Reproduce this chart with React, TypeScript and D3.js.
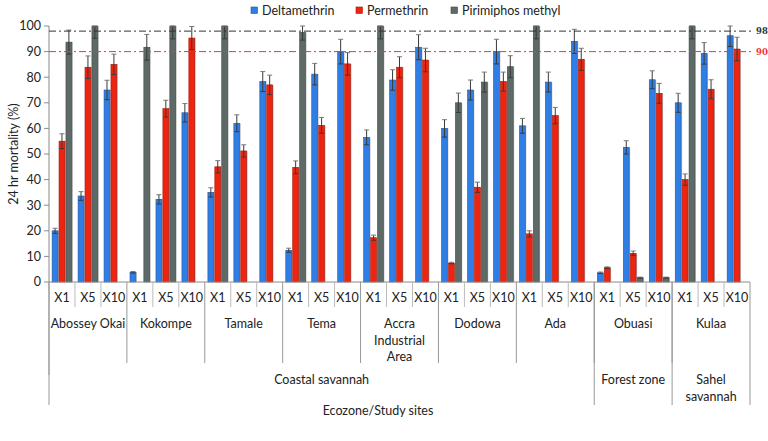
import React, { useEffect, useRef } from 'react';
import * as d3 from 'd3';

// categories
const doses = ['X1', 'X5', 'X10'];
const siteLabels = [
  ['Abossey Okai'], ['Kokompe'], ['Tamale'], ['Tema'],
  ['Accra', 'Industrial', 'Area'], ['Dodowa'], ['Ada'], ['Obuasi'], ['Kulaa']
];
const zoneLabels = [['Coastal savannah'], ['Forest zone'], ['Sahel', 'savannah']];
const zoneSiteCounts = [7, 1, 1];
const seriesNames = ['Deltamethrin', 'Permethrin', 'Pirimiphos methyl'];
const seriesColors = ['#2f7ee6', '#ee2410', '#5e6a68'];
const yTicks = [0, 10, 20, 30, 40, 50, 60, 70, 80, 90, 100];
const thresholds = [98, 90];

// mortality values, one per site x dose (null = not tested)
const deltamethrin = [20, 33.6, 75, 3.8, 32.3, 66.1, 35, 62, 78.3, 12.4, 81.2, 90, 56.5, 78.9, 91.7, 60, 75, 90, 61, 78.1, 94, 3.6, 52.6, 79, 70, 89.3, 96.2];
const permethrin = [55, 83.9, 85, null, 67.7, 95.3, 45, 51.2, 77, 44.8, 61.2, 85.2, 17.3, 83.9, 86.7, 7.4, 37, 78.3, 18.8, 65, 87, 5.6, 11.2, 73.7, 40, 75.3, 91];
const pirimiphos = [93.7, 100, null, 91.7, 100, null, 100, null, null, 97.5, null, null, 100, null, null, 70, 78.1, 84.1, 100, null, null, null, 1.7, 1.7, 100, null, null];

const deltaErr = [1, 1.7, 3.8, 0.3, 1.8, 3.6, 1.8, 3.3, 3.9, 0.8, 4.2, 4.8, 2.9, 4, 4.9, 3.4, 3.9, 4.8, 2.9, 3.9, 4.7, 0.3, 2.6, 3.5, 3.7, 4.2, 4.2];
const permErr = [2.9, 4.4, 4, null, 3.3, 4.5, 2.4, 2.4, 3.8, 2.5, 3.1, 4.4, 1, 4.1, 4.6, 0.3, 2, 3.7, 1.2, 3.2, 4.3, 0.3, 0.9, 3.9, 2.2, 3.7, 4.6];
const pirimErr = [4.7, 4.8, null, 5, 5, null, 5, null, null, 3, null, null, 5, null, null, 3.8, 3.9, 4.3, 5, null, null, null, 0.2, 0.2, 5, null, null];

const FONT = 'Lato, "Open Sans", sans-serif';

function App() {
  const ref = useRef(null);

  function drawChart() {
    const svg = d3.select(ref.current);
    svg.selectAll('*').remove();

    const width = 768, height = 441;
    const left = 49, right = 750, top = 26, bottom = 282;

    const series = [deltamethrin, permethrin, pirimiphos];
    const errors = [deltaErr, permErr, pirimErr];
    const nGroups = siteLabels.length * doses.length;

    const x0 = d3.scaleBand().domain(d3.range(nGroups)).range([left, right]);
    const gw = x0.bandwidth();
    const x1 = d3.scaleBand().domain(d3.range(3)).range([gw * 0.12, gw * 0.88]).paddingInner(0.15);
    const y = d3.scaleLinear().domain([0, 100]).range([bottom, top]);

    svg.attr('width', width).attr('height', height)
      .style('font-family', FONT);

    // y axis
    svg.append('line')
      .attr('x1', left).attr('x2', left).attr('y1', top).attr('y2', bottom)
      .attr('stroke', '#8a8a8a');
    const ticks = svg.append('g');
    yTicks.forEach(t => {
      ticks.append('line')
        .attr('x1', left - 5).attr('x2', left).attr('y1', y(t)).attr('y2', y(t))
        .attr('stroke', '#8a8a8a');
      ticks.append('text')
        .attr('x', left - 8).attr('y', y(t)).attr('dy', '0.35em')
        .attr('text-anchor', 'end').attr('font-size', 12.5).attr('fill', '#222')
        .text(t);
    });
    svg.append('text')
      .attr('transform', `translate(14,${(top + bottom) / 2}) rotate(-90)`)
      .attr('text-anchor', 'middle').attr('dy', '0.35em')
      .attr('font-size', 12.5).attr('fill', '#222')
      .text('24 hr mortality (%)');

    // bars
    const bars = svg.append('g');
    series.forEach((vals, s) => {
      const col = seriesColors[s];
      vals.forEach((v, i) => {
        if (v == null) return;
        const bx = x0(i) + x1(s);
        const bw = x1.bandwidth();
        bars.append('rect')
          .attr('x', bx + 1).attr('y', y(v)).attr('width', bw).attr('height', bottom - y(v))
          .attr('fill', '#c4c4c4');
        bars.append('rect')
          .attr('x', bx).attr('y', y(v)).attr('width', bw).attr('height', bottom - y(v))
          .attr('fill', col)
          .attr('stroke', d3.color(col).darker(1).toString())
          .attr('stroke-width', 0.6);
      });
    });

    // error bars
    const errG = svg.append('g').attr('stroke', '#3a3a3a').attr('stroke-width', 1);
    series.forEach((vals, s) => {
      vals.forEach((v, i) => {
        const e = errors[s][i];
        if (v == null || e == null) return;
        const cx = x0(i) + x1(s) + x1.bandwidth() / 2;
        const hi = Math.min(v + e, 100);
        const lo = v - e;
        errG.append('line').attr('x1', cx).attr('x2', cx).attr('y1', y(hi)).attr('y2', y(lo));
        errG.append('line').attr('x1', cx - 2.5).attr('x2', cx + 2.5).attr('y1', y(hi)).attr('y2', y(hi))
          .attr('stroke', '#777');
        errG.append('line').attr('x1', cx - 2.5).attr('x2', cx + 2.5).attr('y1', y(lo)).attr('y2', y(lo));
      });
    });

    // threshold lines
    const thrColors = ['#333', '#f03434'];
    thresholds.forEach((t, k) => {
      svg.append('line')
        .attr('x1', left).attr('x2', right + 2).attr('y1', y(t)).attr('y2', y(t))
        .attr('stroke', thrColors[k]).attr('stroke-width', 1)
        .attr('stroke-dasharray', '7,3,2,3');
      svg.append('text')
        .attr('x', right + 6).attr('y', y(t)).attr('dy', '0.35em')
        .attr('font-size', 8.5).attr('font-weight', 'bold')
        .attr('font-family', '"DejaVu Serif", serif')
        .attr('fill', thrColors[k])
        .text(t);
    });

    // category table
    const table = svg.append('g');
    table.append('line')
      .attr('x1', left).attr('x2', right).attr('y1', bottom).attr('y2', bottom)
      .attr('stroke', '#8a8a8a');

    const doseY = 298, siteY = 324, zoneY = 380, lineH = 16.3;
    d3.range(nGroups).forEach(i => {
      table.append('text')
        .attr('x', x0(i) + gw / 2).attr('y', doseY).attr('dy', '0.35em')
        .attr('text-anchor', 'middle').attr('font-size', 12.5).attr('fill', '#222')
        .text(doses[i % 3]);
      if (i % 3 !== 0) {
        table.append('line')
          .attr('x1', x0(i)).attr('x2', x0(i)).attr('y1', bottom).attr('y2', 307)
          .attr('stroke', '#bbb');
      }
    });

    siteLabels.forEach((lines, j) => {
      const x = x0(j * 3) + gw * 1.5;
      lines.forEach((ln, k) => {
        table.append('text')
          .attr('x', x).attr('y', siteY + k * lineH).attr('dy', '0.35em')
          .attr('text-anchor', 'middle').attr('font-size', 12.5).attr('fill', '#222')
          .text(ln);
      });
      if (j > 0) {
        table.append('line')
          .attr('x1', x0(j * 3)).attr('x2', x0(j * 3)).attr('y1', bottom).attr('y2', 363)
          .attr('stroke', '#999');
      }
    });

    let start = 0;
    zoneLabels.forEach((lines, z) => {
      const end = start + zoneSiteCounts[z];
      const xs = x0(start * 3);
      const xe = end * 3 >= nGroups ? right : x0(end * 3);
      lines.forEach((ln, k) => {
        table.append('text')
          .attr('x', (xs + xe) / 2).attr('y', zoneY + k * lineH).attr('dy', '0.35em')
          .attr('text-anchor', 'middle').attr('font-size', 12.5).attr('fill', '#222')
          .text(ln);
      });
      table.append('line')
        .attr('x1', xs).attr('x2', xs).attr('y1', bottom).attr('y2', z === 0 ? 375 : 405)
        .attr('stroke', '#999');
      start = end;
    });
    table.append('line')
      .attr('x1', right).attr('x2', right).attr('y1', bottom).attr('y2', 405)
      .attr('stroke', '#999');
    table.append('line')
      .attr('x1', left).attr('x2', left).attr('y1', bottom).attr('y2', 405)
      .attr('stroke', '#999');

    svg.append('text')
      .attr('x', 378).attr('y', 411).attr('dy', '0.35em')
      .attr('text-anchor', 'middle').attr('font-size', 12.5).attr('fill', '#222')
      .text('Ecozone/Study sites');

    // legend
    const legendX = [251, 356, 451];
    seriesNames.forEach((name, s) => {
      const g = svg.append('g').attr('transform', `translate(${legendX[s]},7)`);
      g.append('rect').attr('width', 6.5).attr('height', 6.5)
        .attr('fill', seriesColors[s]).attr('stroke', d3.color(seriesColors[s]).darker(1).toString())
        .attr('stroke-width', 0.6);
      g.append('text').attr('x', 11).attr('y', 3.5).attr('dy', '0.35em')
        .attr('font-size', 12.5).attr('fill', '#222')
        .text(name);
    });
  }

  useEffect(() => {
    drawChart();
  }, []);

  return (
    <svg ref={ref} style={{ position: 'absolute', left: 0, top: 0 }}></svg>
  );
}

export default App;
